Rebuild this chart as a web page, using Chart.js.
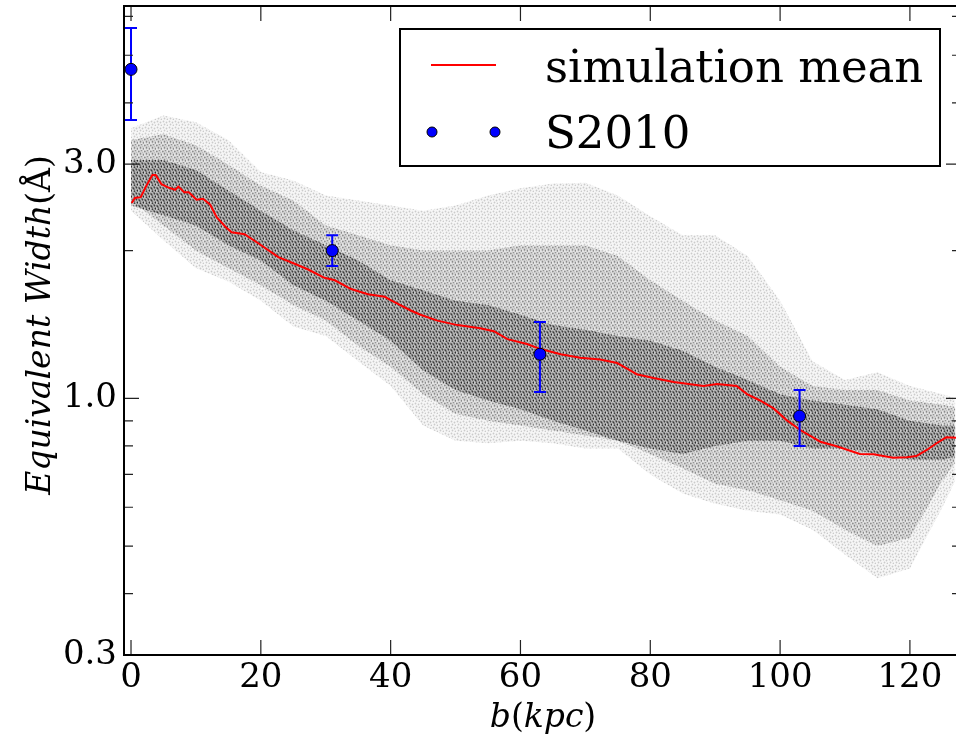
<!DOCTYPE html>
<html>
<head>
<meta charset="utf-8">
<script src="https://cdn.jsdelivr.net/npm/chart.js@4.4.0/dist/chart.umd.min.js"></script>
<style>
  html, body { margin: 0; padding: 0; background: #fff; overflow: hidden; }
  #wrap { width: 956px; height: 738px; }
</style>
</head>
<body>
<div id="wrap"><canvas id="c" width="956" height="738"></canvas></div>
<script>
// simulation mean (red line), b in kpc, EW in Angstrom
const meanB = [0.1, 0.6, 1.5, 2.3, 3.3, 3.8, 4.7, 5.7, 6.8, 7.3, 8.2, 8.9, 10.1, 11.1, 12.2, 13.2, 14.5, 15.5, 17.5, 19.6,
  22.7, 25.2, 27.3, 29.8, 31.4, 33.9, 36.5, 39.1, 40, 43.1, 44.6, 47.2, 50.3, 53.8, 55.9, 58, 61, 63.1, 66.2, 69.2,
  72.3, 74.9, 76.9, 77.9, 80.5, 83.6, 88.2, 90.3, 93.3, 94.9, 96.9, 99, 101, 103.1, 106.2, 108.7, 112.3, 114.4, 117.4, 119.5,
  121, 122.6, 124.1, 125.6, 127.1];
const meanEW = [2.50, 2.56, 2.57, 2.70, 2.85, 2.85, 2.73, 2.69, 2.66, 2.70, 2.63, 2.63, 2.54, 2.55, 2.48, 2.34, 2.24, 2.18, 2.16, 2.07,
  1.94, 1.88, 1.83, 1.76, 1.74, 1.67, 1.63, 1.61, 1.585, 1.51, 1.48, 1.44, 1.41, 1.39, 1.37, 1.32, 1.29, 1.26, 1.23, 1.21,
  1.20, 1.18, 1.14, 1.12, 1.10, 1.08, 1.06, 1.07, 1.06, 1.02, 0.99, 0.954, 0.903, 0.862, 0.816, 0.799, 0.770, 0.769, 0.757, 0.759,
  0.763, 0.785, 0.810, 0.833, 0.831];

// S2010 observations with error bars
const obsB = [0, 31, 63, 103];
const obsEW = [4.68, 2.00, 1.23, 0.92];
const obsLo = [3.69, 1.86, 1.03, 0.80];
const obsHi = [5.68, 2.15, 1.43, 1.04];

// cloud of simulated sightlines, read off as envelopes (outer halo, bulk, dense core)
const cloudB = [0, 5, 10, 15, 20, 25, 30, 35, 40, 45, 50, 55, 60, 65, 70, 75, 80, 85, 90, 95, 100, 105, 110, 115, 120, 125, 127];
const outerHi = [3.55, 3.77, 3.65, 3.36, 2.89, 2.78, 2.59, 2.53, 2.47, 2.41, 2.47, 2.59, 2.68, 2.74, 2.75, 2.59, 2.35, 2.15, 2.15, 1.95, 1.58, 1.19, 1.09, 1.13, 1.06, 1.02, 1.00];
const outerLo = [2.41, 2.10, 1.84, 1.73, 1.58, 1.40, 1.34, 1.19, 1.06, 0.88, 0.82, 0.81, 0.82, 0.81, 0.79, 0.79, 0.70, 0.64, 0.61, 0.59, 0.58, 0.54, 0.48, 0.43, 0.45, 0.60, 0.68];
const midHi = [3.36, 3.45, 3.28, 2.99, 2.71, 2.53, 2.25, 2.15, 2.05, 2.00, 2.00, 2.00, 2.05, 2.05, 2.05, 1.95, 1.74, 1.58, 1.44, 1.34, 1.16, 1.06, 1.04, 1.04, 0.99, 0.97, 0.96];
const midLo = [2.53, 2.25, 2.00, 1.84, 1.70, 1.55, 1.44, 1.28, 1.16, 1.02, 0.93, 0.90, 0.88, 0.86, 0.84, 0.82, 0.77, 0.72, 0.67, 0.65, 0.62, 0.59, 0.54, 0.50, 0.52, 0.68, 0.74];
const coreHi = [3.06, 3.06, 2.92, 2.65, 2.41, 2.20, 2.05, 1.91, 1.74, 1.66, 1.58, 1.55, 1.48, 1.41, 1.38, 1.34, 1.31, 1.25, 1.16, 1.09, 1.02, 0.99, 0.97, 0.95, 0.90, 0.88, 0.88];
const coreLo = [2.47, 2.36, 2.25, 2.05, 1.91, 1.70, 1.58, 1.44, 1.31, 1.14, 1.04, 0.99, 0.95, 0.90, 0.86, 0.82, 0.79, 0.77, 0.80, 0.82, 0.82, 0.79, 0.79, 0.77, 0.75, 0.75, 0.76];

// ticks
const xTicks = [0, 20, 40, 60, 80, 100, 120];
const yMajor = [0.3, 1.0, 3.0];
const yMinor = [0.4, 0.5, 0.6, 0.7, 0.8, 0.9, 2, 4, 5, 6];

const SERIF = '"DejaVu Serif", serif';

const pts = (xs, ys) => xs.map((x, i) => ({x: x, y: ys[i]}));

// stippled fill so the bands read like a cloud of dots
function stipple(alpha, shift) {
  const c = document.createElement('canvas');
  c.width = 6; c.height = 6;
  const g = c.getContext('2d');
  g.fillStyle = 'rgba(0,0,0,' + (alpha * 0.45) + ')';
  g.fillRect(0, 0, 6, 6);
  g.fillStyle = 'rgba(0,0,0,' + Math.min(1, alpha * 2.2) + ')';
  [[1, 1], [4, 2], [2, 4], [5, 5]].forEach(p => {
    g.beginPath();
    g.arc((p[0] + shift) % 6 + 0.5, (p[1] + shift * 2) % 6 + 0.5, 0.9, 0, Math.PI * 2);
    g.fill();
  });
  return g.createPattern(c, 'repeat');
}

function band(hi, lo, fillStyle, order) {
  return [
    {label: '', data: pts(cloudB, hi), borderWidth: 0, pointRadius: 0, fill: '+1',
     backgroundColor: fillStyle, order: order + 1},
    {label: '', data: pts(cloudB, lo), borderWidth: 0, pointRadius: 0, fill: false, order: order}
  ];
}

// draw error bars under the S2010 markers
const errorBars = {
  id: 'errorBars',
  beforeDatasetDraw(chart, args) {
    if (chart.data.datasets[args.index].label !== 'S2010') return;
    const {ctx, scales: {x, y}} = chart;
    ctx.save();
    ctx.strokeStyle = '#0000ff';
    ctx.lineWidth = 2;
    obsB.forEach((b, i) => {
      const px = x.getPixelForValue(b);
      const top = y.getPixelForValue(obsHi[i]);
      const bot = y.getPixelForValue(obsLo[i]);
      ctx.beginPath();
      ctx.moveTo(px, top); ctx.lineTo(px, bot);
      ctx.moveTo(px - 6, top); ctx.lineTo(px + 6, top);
      ctx.moveTo(px - 6, bot); ctx.lineTo(px + 6, bot);
      ctx.stroke();
    });
    ctx.restore();
  }
};

function drawMixed(ctx, parts, size) {
  let w = 0;
  parts.forEach(p => { ctx.font = (p[1] ? 'italic ' : '') + size + 'px ' + SERIF; w += ctx.measureText(p[0]).width; });
  let pos = -w / 2;
  parts.forEach(p => {
    ctx.font = (p[1] ? 'italic ' : '') + size + 'px ' + SERIF;
    ctx.fillText(p[0], pos, 0);
    pos += ctx.measureText(p[0]).width;
  });
}

// frame, inward ticks, axis titles and legend
const decor = {
  id: 'decor',
  afterDraw(chart) {
    const {ctx, chartArea: a, scales: {x, y}} = chart;
    // the original is cropped just before its right spine
    const spineR = a.right + 5;
    ctx.save();
    ctx.strokeStyle = '#222';
    ctx.lineWidth = 1.2;
    ctx.beginPath();
    x.ticks.forEach(t => {
      const px = x.getPixelForValue(t.value);
      ctx.moveTo(px, a.bottom); ctx.lineTo(px, a.bottom - 15);
      ctx.moveTo(px, a.top); ctx.lineTo(px, a.top + 15);
    });
    y.ticks.forEach(t => {
      const py = y.getPixelForValue(t.value);
      const len = yMajor.includes(t.value) ? 15 : 9;
      ctx.moveTo(a.left, py); ctx.lineTo(a.left + len, py);
      ctx.moveTo(spineR, py); ctx.lineTo(spineR - len, py);
    });
    ctx.stroke();
    ctx.strokeStyle = '#000';
    ctx.lineWidth = 2;
    ctx.beginPath();
    ctx.moveTo(spineR, a.top); ctx.lineTo(a.left, a.top);
    ctx.lineTo(a.left, a.bottom); ctx.lineTo(spineR, a.bottom);
    ctx.stroke();

    // axis titles
    ctx.fillStyle = '#000';
    ctx.textBaseline = 'alphabetic';
    ctx.textAlign = 'left';
    ctx.save();
    ctx.translate(543, 727);
    drawMixed(ctx, [['b', true], ['(', false], ['kpc', true], [')', false]], 33);
    ctx.restore();
    ctx.save();
    ctx.translate(50, 325);
    ctx.rotate(-Math.PI / 2);
    drawMixed(ctx, [['Equivalent Width', true], ['(Å)', false]], 33);
    ctx.restore();

    // legend
    const mean = chart.data.datasets.find(d => d.label === 'simulation mean');
    const obs = chart.data.datasets.find(d => d.label === 'S2010');
    ctx.fillStyle = '#fff';
    ctx.fillRect(400, 29, 540, 137);
    ctx.strokeStyle = '#000';
    ctx.lineWidth = 2;
    ctx.strokeRect(400, 29, 540, 137);
    ctx.strokeStyle = mean.borderColor;
    ctx.lineWidth = 2;
    ctx.beginPath(); ctx.moveTo(431, 65); ctx.lineTo(496, 65); ctx.stroke();
    [432, 495].forEach(mx => {
      ctx.beginPath();
      ctx.arc(mx, 132, 5, 0, Math.PI * 2);
      ctx.fillStyle = obs.backgroundColor; ctx.fill();
      ctx.strokeStyle = '#000'; ctx.lineWidth = 1; ctx.stroke();
    });
    ctx.fillStyle = '#000';
    ctx.font = '45px ' + SERIF;
    ctx.fillText(mean.label, 545, 82);
    ctx.fillText(obs.label, 545, 148);
    ctx.restore();
  }
};

new Chart(document.getElementById('c'), {
  type: 'line',
  data: {
    datasets: [
      {label: 'S2010', type: 'scatter', data: pts(obsB, obsEW), backgroundColor: '#0000ff',
       borderColor: '#000', borderWidth: 1, pointRadius: 6, showLine: false, order: 0},
      {label: 'simulation mean', data: pts(meanB, meanEW), borderColor: '#ff0000', borderWidth: 2,
       pointRadius: 0, fill: false, tension: 0, order: 1},
      ...band(coreHi, coreLo, stipple(0.30, 3), 2),
      ...band(midHi, midLo, stipple(0.16, 1), 4),
      ...band(outerHi, outerLo, stipple(0.08, 0), 6)
    ]
  },
  options: {
    responsive: false,
    animation: false,
    events: [],
    layout: {autoPadding: false, padding: {top: 6, left: 0, right: 0, bottom: 0}},
    plugins: {legend: {display: false}, tooltip: {enabled: false}},
    scales: {
      x: {
        type: 'linear', min: -1.08, max: 127.1,
        afterBuildTicks: s => { s.ticks = xTicks.map(v => ({value: v})); },
        afterFit: s => { s.height = 83; s.paddingLeft = 0; s.paddingRight = 0; },
        grid: {display: false, drawTicks: false},
        border: {display: false},
        ticks: {padding: 3, color: '#000', font: {family: SERIF, size: 34}, maxRotation: 0}
      },
      y: {
        type: 'logarithmic', min: 0.3, max: 6.3,
        afterBuildTicks: s => { s.ticks = yMajor.concat(yMinor).sort((p, q) => p - q).map(v => ({value: v})); },
        afterFit: s => { s.width = 124; s.paddingTop = 0; s.paddingBottom = 0; },
        grid: {display: false, drawTicks: false},
        border: {display: false},
        ticks: {
          padding: 7, autoSkip: false, color: '#000', font: {family: SERIF, size: 34},
          callback: v => yMajor.includes(v) ? v.toFixed(1) : ''
        }
      }
    }
  },
  plugins: [errorBars, decor]
});
</script>
</body>
</html>
